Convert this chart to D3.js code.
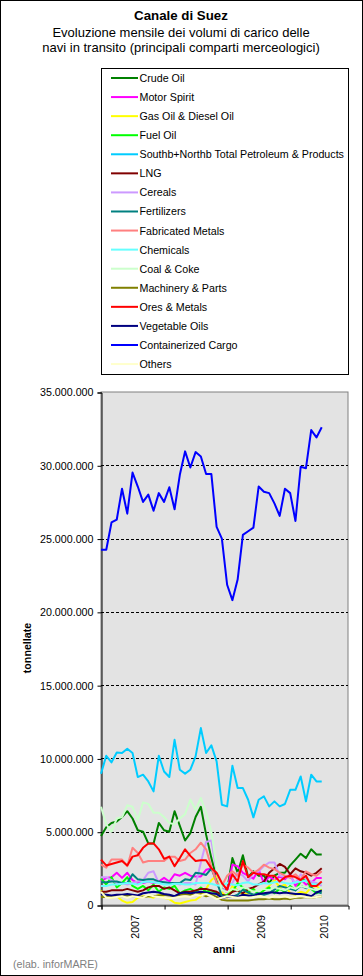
<!DOCTYPE html>
<html lang="it">
<head>
<meta charset="utf-8">
<title>Canale di Suez</title>
<script src="https://cdn.jsdelivr.net/npm/d3@7"></script>
<style>
  body { margin: 0; background: #fff; }
  text { font-family: Arial, "Liberation Sans", sans-serif; }
</style>
</head>
<body>
<svg id="chart" width="363" height="976"></svg>
<script>
// months Jan 2007 .. Dec 2010 on the axis, data up to Jul 2010 (43 points)
var YEARS = ["2007", "2008", "2009", "2010"];
var N_MONTHS = 48;

// values in million tonnes
var crudeOil     = [4.7,5.3,5.6,5.7,6.0,6.4,5.9,5.1,5.0,4.2,4.2,5.6,5.1,5.0,6.4,5.4,4.4,4.9,6.0,6.7,4.8,3.2,1.8,1.1,1.0,3.2,2.2,3.4,1.9,2.3,2.0,2.0,1.5,2.0,2.2,2.2,2.7,3.1,3.5,3.2,3.8,3.45,3.45];
var motorSpirit  = [1.6,1.85,1.9,2.2,1.85,2.2,1.7,1.5,1.5,1.6,1.5,1.6,1.85,1.6,2.1,2.0,2.2,2.0,1.95,1.95,2.4,2.5,1.8,1.0,0.9,2.75,2.65,2.2,2.0,1.8,2.4,1.5,1.95,1.7,1.95,1.75,2.1,1.3,1.75,1.4,1.5,1.85,1.85];
var gasOil       = [1.0,0.6,0.5,0.6,0.3,0.15,0.2,0.5,0.6,0.6,0.5,0.7,0.5,0.4,0.15,0.1,0.2,0.3,0.35,0.6,1.1,1.7,2.0,0.9,0.5,1.3,1.0,0.7,0.8,1.1,0.7,1.0,1.3,1.7,1.2,1.4,0.8,0.7,0.9,0.8,1.2,1.3,1.0];
var fuelOil      = [1.8,1.4,1.9,1.2,1.5,1.9,1.3,1.1,1.3,1.0,1.4,0.9,1.2,1.1,1.3,0.8,1.0,1.1,0.9,1.2,0.9,1.0,0.8,0.6,0.7,0.9,1.5,1.2,0.9,1.1,0.7,1.0,1.2,0.8,1.1,0.9,1.3,1.0,1.6,1.8,1.1,0.8,1.0];
var petroleum    = [8.96,10.18,9.73,10.41,10.37,10.66,10.37,8.73,8.89,8.43,7.75,10.18,9.11,8.73,11.27,9.23,8.96,9.23,10.14,12.07,10.37,10.89,9.8,6.84,6.73,9.5,7.98,7.98,7.18,5.98,7.18,7.41,6.73,7.07,6.73,6.89,7.86,7.86,8.77,7.07,8.89,8.43,8.43];
var lng          = [0.9,0.9,1.0,1.0,1.0,1.1,1.0,0.9,1.0,1.2,1.3,1.3,1.1,1.2,1.0,0.8,0.9,0.9,1.0,1.1,1.1,1.0,0.9,0.7,0.6,0.9,1.0,0.8,1.1,1.2,1.4,1.6,2.2,2.5,2.8,2.6,2.1,2.5,2.3,2.2,2.0,2.2,2.5];
var cereals      = [1.9,1.9,1.7,1.5,1.5,1.4,1.5,1.6,1.7,2.2,2.3,1.5,1.6,1.5,1.5,1.4,1.5,1.5,1.4,2.9,4.3,4.4,2.3,1.0,1.2,1.5,2.2,2.0,1.6,2.2,2.3,2.65,2.9,2.9,2.0,1.9,1.9,1.5,2.1,1.75,1.6,1.5,1.3];
var fertilizers  = [1.55,1.55,1.6,1.6,1.5,1.5,2.1,1.75,1.7,1.75,1.75,1.6,1.55,1.5,1.5,1.5,1.75,1.7,2.2,2.15,2.05,2.5,1.6,0.6,0.6,0.55,0.7,1.05,0.85,0.7,0.8,0.7,0.8,1.05,1.3,1.2,1.1,1.0,1.3,1.15,1.2,0.9,0.8];
var fabMetals    = [2.75,2.55,3.1,3.1,3.1,2.65,3.9,3.55,2.9,3.0,3.0,3.0,3.0,3.3,3.3,3.0,3.1,3.55,3.8,4.25,3.8,2.6,1.5,1.3,2.0,2.3,2.0,2.75,2.55,2.2,2.4,2.75,2.55,2.45,2.2,2.0,1.85,2.1,1.75,2.3,2.1,2.0,2.3];
var chemicals    = [1.3,1.3,1.4,1.4,1.45,1.5,1.45,1.4,1.55,1.6,1.55,1.5,1.4,1.4,1.45,1.45,1.4,1.4,1.5,1.5,1.5,1.45,1.35,1.3,1.5,1.4,1.35,1.5,1.55,1.4,1.4,1.5,1.45,1.55,1.6,1.5,1.45,1.55,1.6,1.65,1.45,1.4,1.5];
var coalCoke     = [6.7,5.5,5.0,5.9,6.0,6.8,6.7,5.8,7.0,6.9,6.3,6.3,6.0,5.6,5.5,5.9,6.2,7.2,6.5,7.3,6.3,5.0,2.5,1.0,0.9,1.1,1.0,1.2,1.1,0.9,1.0,1.1,1.0,1.2,1.1,1.0,1.2,1.1,1.3,1.2,1.1,1.0,1.2];
var machinery    = [0.55,0.55,0.6,0.6,0.6,0.65,0.6,0.6,0.55,0.6,0.6,0.65,0.7,0.65,0.6,0.7,0.75,0.7,0.7,0.75,0.6,0.7,0.55,0.35,0.3,0.3,0.3,0.3,0.3,0.35,0.4,0.4,0.45,0.4,0.4,0.45,0.4,0.5,0.5,0.55,0.5,0.55,0.6];
var oresMetals   = [3.1,2.7,2.8,2.9,3.0,2.7,3.3,3.4,3.9,4.2,4.2,3.8,3.15,3.3,2.65,3.2,3.8,3.35,3.0,3.05,3.05,2.5,2.2,1.5,1.05,2.1,1.6,3.0,1.9,2.2,2.1,2.1,2.0,2.0,1.6,1.9,2.0,1.9,1.7,2.0,1.3,1.3,1.6];
var vegOils      = [0.75,0.7,0.65,0.7,0.7,0.75,0.7,0.65,0.8,0.85,0.9,0.85,0.75,0.7,0.6,0.8,0.85,0.8,0.85,0.9,0.85,0.8,0.75,0.5,0.55,0.6,0.55,0.7,0.65,0.6,0.75,0.8,0.85,0.85,0.8,0.85,0.8,0.75,0.75,0.7,0.6,0.85,1.0];
var container    = [24.24,24.24,26.1,26.3,28.4,26.7,29.5,28.55,27.5,28.0,26.9,28.1,27.5,28.5,27.0,29.35,30.95,29.85,30.9,30.6,29.4,29.4,25.8,25.0,21.85,20.8,22.2,25.25,25.5,25.75,28.55,28.2,28.1,27.4,26.55,28.4,28.1,26.2,29.9,29.8,32.4,31.9,32.6];
var others       = [0.9,0.5,0.5,0.55,0.6,0.5,0.6,0.55,0.5,0.7,0.6,0.55,0.5,0.45,0.5,0.55,0.6,0.55,0.7,0.65,0.75,0.6,0.4,0.5,0.6,0.55,0.5,0.55,0.5,0.55,0.6,0.55,0.5,0.6,0.55,0.6,0.5,0.55,0.6,0.55,0.5,0.55,0.6];

var seriesNames = ["Crude Oil", "Motor Spirit", "Gas Oil & Diesel Oil", "Fuel Oil",
  "Southb+Northb Total Petroleum & Products", "LNG", "Cereals", "Fertilizers",
  "Fabricated Metals", "Chemicals", "Coal & Coke", "Machinery & Parts",
  "Ores & Metals", "Vegetable Oils", "Containerized Cargo", "Others"];
var seriesValues = [crudeOil, motorSpirit, gasOil, fuelOil, petroleum, lng, cereals, fertilizers,
  fabMetals, chemicals, coalCoke, machinery, oresMetals, vegOils, container, others];
var seriesColours = ["#008000", "#FF00FF", "#FFFF00", "#00FF00", "#00CCFF", "#800000", "#CC99FF", "#008080",
  "#FF8080", "#66FFFF", "#CCFFCC", "#808000", "#FF0000", "#000080", "#0000FF", "#FFFFCC"];
var yTicks = [0, 5, 10, 15, 20, 25, 30, 35];

//layout
var W = 363, H = 976;
var plot = {left: 101, right: 348, top: 392, bottom: 905};
var SMALL = "10.7px"; //Excel 8pt

var svg = d3.select("#chart");
var it = d3.formatLocale({decimal: ",", thousands: ".", grouping: [3], currency: ["", ""]});
var fmt = it.format(",d");

//outer frame
svg.append("rect").attr("x", 0.5).attr("y", 0.5).attr("width", W - 1).attr("height", H - 1)
  .attr("fill", "#fff").attr("stroke", "#000");

//titles
svg.append("text").attr("x", 181).attr("y", 20).attr("text-anchor", "middle")
  .style("font-size", "13.3px").style("font-weight", "bold").text("Canale di Suez");
svg.append("text").attr("x", 181).attr("y", 37).attr("text-anchor", "middle")
  .style("font-size", "13px").text("Evoluzione mensile dei volumi di carico delle");
svg.append("text").attr("x", 181).attr("y", 52).attr("text-anchor", "middle")
  .style("font-size", "13px").text("navi in transito (principali comparti merceologici)");

//legend
var lg = svg.append("g");
lg.append("rect").attr("x", 101.5).attr("y", 68.5).attr("width", 247).attr("height", 306)
  .attr("fill", "#fff").attr("stroke", "#000");
var rows = lg.selectAll("g.row").data(seriesNames).enter().append("g")
  .attr("transform", function (d, i) { return "translate(0," + (78 + i * 19.07) + ")"; });
rows.append("line").attr("x1", 111).attr("x2", 138).attr("y1", 0).attr("y2", 0)
  .attr("stroke", function (d, i) { return seriesColours[i]; }).attr("stroke-width", 2);
rows.append("text").attr("x", 139.5).attr("y", 4).style("font-size", SMALL).text(function (d) { return d; });

//scales
var x = d3.scaleLinear().domain([0, N_MONTHS - 1]).range([plot.left, plot.right]);
var y = d3.scaleLinear().domain([0, 35]).range([plot.bottom, plot.top]);

//plot background
svg.append("rect").attr("x", plot.left).attr("y", plot.top)
  .attr("width", plot.right - plot.left).attr("height", plot.bottom - plot.top)
  .attr("fill", "#E3E3E3").attr("stroke", "#808080");

//dashed gridlines
svg.append("g").selectAll("line").data(yTicks.filter(function (t) { return t > 0 && t < 35; }))
  .enter().append("line")
  .attr("x1", plot.left).attr("x2", plot.right)
  .attr("y1", function (d) { return Math.round(y(d)) + 0.5; })
  .attr("y2", function (d) { return Math.round(y(d)) + 0.5; })
  .attr("stroke", "#000").attr("stroke-dasharray", "3,2");

//y axis
var yAxis = d3.axisLeft(y).tickValues(yTicks).tickSize(4).tickPadding(4)
  .tickFormat(function (d) { return fmt(d * 1e6); });
var ga = svg.append("g").attr("transform", "translate(" + (plot.left + 0.5) + ",0.5)").call(yAxis);
ga.selectAll("text").style("font-size", SMALL).attr("fill", "#000");

//x axis
var xAxis = d3.axisBottom(x).tickValues([0, 12, 24, 36]).tickSize(4).tickFormat("");
svg.append("g").attr("transform", "translate(0.5," + (plot.bottom + 0.5) + ")").call(xAxis);
svg.append("g").selectAll("text").data(YEARS).enter().append("text")
  .attr("transform", function (d, i) { return "translate(" + (x(i * 12 + 6.5) + 4) + ",915) rotate(-90)"; })
  .attr("text-anchor", "end").style("font-size", SMALL).text(function (d) { return d; });

//axis titles
svg.append("text").attr("x", 224).attr("y", 953).attr("text-anchor", "middle")
  .style("font-size", SMALL).style("font-weight", "bold").text("anni");
svg.append("text").attr("transform", "translate(31,648) rotate(-90)").attr("text-anchor", "middle")
  .style("font-size", SMALL).style("font-weight", "bold").text("tonnellate");
svg.append("text").attr("x", 13).attr("y", 968).style("font-size", SMALL).attr("fill", "#808080")
  .text("(elab. inforMARE)");

//series, drawn in legend order
var line = d3.line().x(function (d, i) { return x(i); }).y(function (d) { return y(d); });
svg.append("g").selectAll("path").data(seriesValues).enter().append("path")
  .attr("d", line).attr("fill", "none")
  .attr("stroke", function (d, i) { return seriesColours[i]; })
  .attr("stroke-width", 2).attr("stroke-linejoin", "round");
</script>
</body>
</html>
